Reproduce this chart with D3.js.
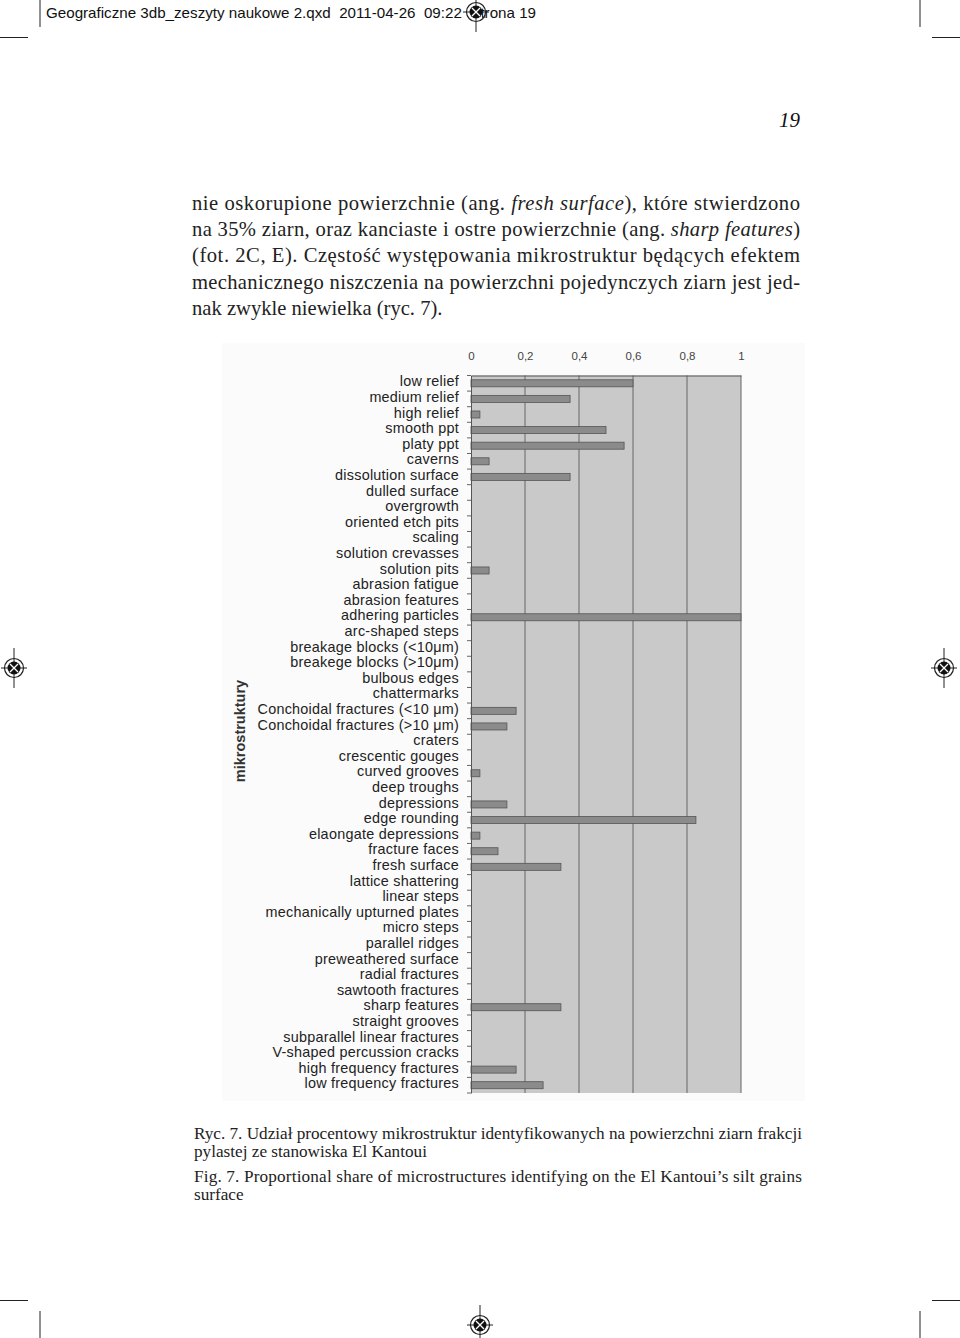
<!DOCTYPE html>
<html>
<head>
<meta charset="utf-8">
<script src="https://cdn.jsdelivr.net/npm/d3@7"></script>
<style>
  body { margin: 0; background: #fff; }
  svg { display: block; }
</style>
</head>
<body>
<div id="page"></div>
<script>
// categories (top to bottom) and their shares
var categories = [
  "low relief", "medium relief", "high relief", "smooth ppt", "platy ppt", "caverns",
  "dissolution surface", "dulled surface", "overgrowth", "oriented etch pits", "scaling",
  "solution crevasses", "solution pits", "abrasion fatigue", "abrasion features",
  "adhering particles", "arc-shaped steps", "breakage blocks (<10μm)", "breakege blocks (>10μm)",
  "bulbous edges", "chattermarks", "Conchoidal fractures (<10 μm)", "Conchoidal fractures (>10 μm)",
  "craters", "crescentic gouges", "curved grooves", "deep troughs", "depressions",
  "edge rounding", "elaongate depressions", "fracture faces", "fresh surface",
  "lattice shattering", "linear steps", "mechanically upturned plates", "micro steps",
  "parallel ridges", "preweathered surface", "radial fractures", "sawtooth fractures",
  "sharp features", "straight grooves", "subparallel linear fractures",
  "V-shaped percussion cracks", "high frequency fractures", "low frequency fractures"
];
var values = [
  0.6, 0.367, 0.033, 0.5, 0.567, 0.067,
  0.367, 0, 0, 0, 0,
  0, 0.067, 0, 0,
  1.0, 0, 0, 0,
  0, 0, 0.167, 0.133,
  0, 0, 0.033, 0, 0.133,
  0.833, 0.033, 0.1, 0.333,
  0, 0, 0, 0,
  0, 0, 0, 0,
  0.333, 0, 0,
  0, 0.167, 0.267
];
var xTicks = [0, 0.2, 0.4, 0.6, 0.8, 1];
var xTickLabels = ["0", "0,2", "0,4", "0,6", "0,8", "1"];

var paragraph = [
  [["nie oskorupione powierzchnie (ang. ", false], ["fresh surface", true], ["), które stwierdzono", false]],
  [["na 35% ziarn, oraz kanciaste i ostre powierzchnie (ang. ", false], ["sharp features", true], [")", false]],
  [["(fot. 2C, E). Częstość występowania mikrostruktur będących efektem", false]],
  [["mechanicznego niszczenia na powierzchni pojedynczych ziarn jest jed-", false]],
  [["nak zwykle niewielka (ryc. 7).", false]]
];
var caption = [
  "Ryc. 7. Udział procentowy mikrostruktur identyfikowanych na powierzchni ziarn frakcji",
  "pylastej ze stanowiska El Kantoui",
  "Fig. 7. Proportional share of microstructures identifying on the El Kantoui’s silt grains",
  "surface"
];

var W = 960, H = 1338;
var svg = d3.select("#page").append("svg").attr("width", W).attr("height", H);

// ---- print marks ----
var marks = svg.append("g").attr("stroke", "#222").attr("stroke-width", 1);
[[40, 0, 40, 27], [920, 0, 920, 27], [0, 37.5, 28, 37.5], [932, 37.5, 960, 37.5],
 [40, 1311, 40, 1338], [920, 1311, 920, 1338], [0, 1300.5, 28, 1300.5], [932, 1300.5, 960, 1300.5]]
  .forEach(function(l) {
    marks.append("line").attr("x1", l[0]).attr("y1", l[1]).attr("x2", l[2]).attr("y2", l[3]);
  });

function regMark(cx, cy) {
  var g = svg.append("g").attr("transform", "translate(" + cx + "," + cy + ")");
  g.append("line").attr("x1", 0).attr("y1", -20).attr("x2", 0).attr("y2", 20).attr("stroke", "#222");
  g.append("line").attr("x1", -13).attr("y1", 0).attr("x2", 13).attr("y2", 0).attr("stroke", "#222");
  g.append("circle").attr("r", 9.5).attr("fill", "none").attr("stroke", "#222").attr("stroke-width", 1.2);
  g.append("circle").attr("r", 6.5).attr("fill", "#111");
  g.append("path").attr("d", "M-4,-4L4,4M4,-4L-4,4").attr("stroke", "#fff").attr("stroke-width", 1.3);
}

// header
svg.append("text").attr("x", 46).attr("y", 18)
  .attr("font-family", "Liberation Sans, Arial, sans-serif").attr("font-size", 14.5)
  .attr("fill", "#111").attr("textLength", 490).attr("lengthAdjust", "spacingAndGlyphs")
  .attr("xml:space", "preserve")
  .text("Geograficzne 3db_zeszyty naukowe 2.qxd  2011-04-26  09:22  Strona 19");
svg.append("rect").attr("x", 462).attr("y", 0).attr("width", 20).attr("height", 24).attr("fill", "#fff");
regMark(476, 12);
regMark(14, 668);
regMark(944, 668);
regMark(480, 1325);

// page number
svg.append("text").attr("x", 800).attr("y", 127).attr("text-anchor", "end")
  .attr("font-family", "Liberation Serif, serif").attr("font-style", "italic")
  .attr("font-size", 21).attr("fill", "#111").text("19");

// paragraph
var para = svg.append("g").attr("font-family", "Liberation Serif, serif")
  .attr("font-size", 20.6).attr("fill", "#222");
paragraph.forEach(function(line, i) {
  var t = para.append("text").attr("x", 192).attr("y", 210 + i * 26.2)
    .attr("xml:space", "preserve");
  if (i < paragraph.length - 1) t.attr("textLength", 608).attr("lengthAdjust", "spacing");
  line.forEach(function(seg) {
    t.append("tspan").attr("font-style", seg[1] ? "italic" : "normal").text(seg[0]);
  });
});

// ---- chart ----
svg.append("rect").attr("x", 222).attr("y", 343).attr("width", 583).attr("height", 758)
  .attr("fill", "#fbfbfb");

var top0 = 375.5, bottom0 = 1093;
var x = d3.scaleLinear().domain([0, 1]).range([471, 741]);
var y = d3.scaleBand().domain(categories).range([top0, bottom0]).paddingInner(0.55).paddingOuter(0.275);
var yBand = d3.scaleBand().domain(categories).range([top0, bottom0]);

svg.append("rect").attr("x", x(0)).attr("y", top0).attr("width", x(1) - x(0)).attr("height", bottom0 - top0)
  .attr("fill", "#c9c9c9");

// vertical grid
svg.append("g").selectAll("line").data(xTicks.slice(1)).enter().append("line")
  .attr("x1", function(d) { return x(d); }).attr("x2", function(d) { return x(d); })
  .attr("y1", top0).attr("y2", bottom0).attr("stroke", "#666").attr("stroke-width", 1);

// top axis
var xAxis = svg.append("g").attr("transform", "translate(0," + top0 + ")")
  .call(d3.axisTop(x).tickValues(xTicks).tickSize(0).tickPadding(16)
    .tickFormat(function(d, i) { return xTickLabels[i]; }));
xAxis.select(".domain").attr("stroke", "#555");
xAxis.selectAll("text").attr("font-family", "Liberation Sans, Arial, sans-serif")
  .attr("font-size", 11.5).attr("fill", "#444");

// bars
svg.append("g").selectAll("rect").data(values).enter().append("rect")
  .attr("x", x(0))
  .attr("y", function(d, i) { return y(categories[i]); })
  .attr("width", function(d) { return x(d) - x(0); })
  .attr("height", y.bandwidth())
  .attr("fill", "#8b8b8b").attr("stroke", "#555").attr("stroke-width", 0.8)
  .attr("display", function(d) { return d > 0 ? null : "none"; });

// left axis
var yAxis = svg.append("g").attr("transform", "translate(" + x(0) + ",0)")
  .call(d3.axisLeft(yBand).tickSize(0).tickPadding(12));
yAxis.select(".domain").attr("stroke", "#555");
yAxis.selectAll("text").attr("font-family", "Liberation Sans, Arial, sans-serif")
  .attr("font-size", 14.4).attr("letter-spacing", 0.25).attr("fill", "#222")
  .attr("dy", "0.22em");
// small ticks at band boundaries
svg.append("g").selectAll("line").data(categories.concat(["end"])).enter().append("line")
  .attr("x1", x(0) - 4).attr("x2", x(0))
  .attr("y1", function(d, i) { return top0 + i * yBand.step(); })
  .attr("y2", function(d, i) { return top0 + i * yBand.step(); })
  .attr("stroke", "#666");

svg.append("text").attr("transform", "translate(245,731) rotate(-90)")
  .attr("text-anchor", "middle").attr("font-family", "Liberation Sans, Arial, sans-serif")
  .attr("font-weight", "bold").attr("font-size", 14.5).attr("fill", "#333")
  .text("mikrostruktury");

// caption
var cap = svg.append("g").attr("font-family", "Liberation Serif, serif")
  .attr("font-size", 17.2).attr("fill", "#222");
var capY = [1139, 1157, 1182, 1200];
caption.forEach(function(s, i) {
  var t = cap.append("text").attr("x", 194).attr("y", capY[i]).text(s);
  if (i == 0 || i == 2) t.attr("textLength", 608).attr("lengthAdjust", "spacing");
});
</script>
</body>
</html>
